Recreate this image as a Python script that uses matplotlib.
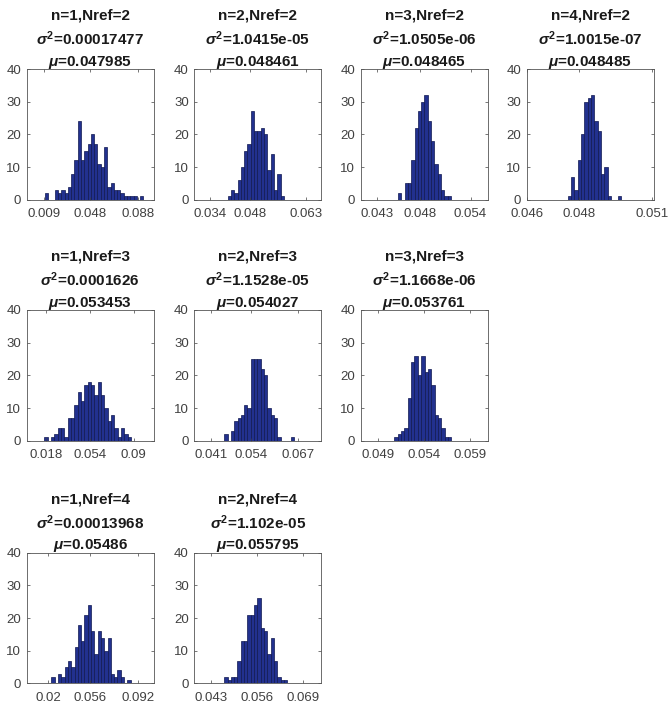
import numpy as np
import matplotlib
matplotlib.use("Agg")
import matplotlib.pyplot as plt

plt.rcParams['font.family'] = ['Liberation Sans', 'DejaVu Sans']
plt.rcParams['mathtext.fontset'] = 'custom'
plt.rcParams['mathtext.rm'] = 'Liberation Sans:bold'
plt.rcParams['mathtext.it'] = 'Liberation Sans:italic:bold'
plt.rcParams['mathtext.bf'] = 'Liberation Sans:bold'

# ---- data ----
n_vals = [1, 2, 3, 4, 1, 2, 3, 1, 2]
nref_vals = [2, 2, 2, 2, 3, 3, 3, 4, 4]
variances = [0.00017477, 1.0415e-05, 1.0505e-06, 1.0015e-07,
             0.0001626, 1.1528e-05, 1.1668e-06,
             0.00013968, 1.102e-05]
means = [0.047985, 0.048461, 0.048465, 0.048485,
         0.053453, 0.054027, 0.053761,
         0.05486, 0.055795]

counts_1 = [2, 0, 0, 3, 2, 3, 2, 4, 8, 12, 24, 12, 15, 17, 20, 17, 11, 10, 16, 4, 5, 3, 3, 2, 1, 1, 1, 1, 0, 1]
counts_2 = [1, 3, 2, 6, 10, 15, 17, 27, 21, 21, 22, 20, 9, 14, 3, 8, 1]
counts_3 = [2, 0, 5, 5, 12, 22, 27, 30, 32, 24, 18, 11, 8, 3, 1, 1]
counts_4 = [1, 7, 3, 12, 20, 30, 31, 32, 24, 21, 8, 10, 1, 0, 0, 1]
counts_5 = [1, 0, 1, 2, 4, 4, 1, 7, 7, 11, 15, 12, 17, 18, 17, 14, 18, 14, 10, 6, 8, 4, 1, 4, 2, 1]
counts_6 = [2, 0, 3, 6, 7, 8, 11, 10, 25, 25, 25, 22, 20, 10, 8, 7, 1, 0, 0, 0, 1]
counts_7 = [1, 2, 3, 4, 13, 24, 26, 20, 26, 21, 22, 17, 8, 7, 4, 1, 1]
counts_8 = [2, 0, 3, 2, 5, 7, 5, 11, 18, 13, 21, 24, 16, 9, 16, 14, 10, 14, 3, 2, 4, 2, 0, 1]
counts_9 = [2, 1, 2, 2, 7, 13, 13, 21, 21, 24, 26, 17, 16, 9, 14, 7, 2, 1, 1]
all_counts = [counts_1, counts_2, counts_3, counts_4, counts_5,
              counts_6, counts_7, counts_8, counts_9]

bin_ranges = [(0.0101, 0.0928), (0.03923, 0.05626), (0.04544, 0.05169),
              (0.047635, 0.049764), (0.01635, 0.08794), (0.04494, 0.06567),
              (0.050754, 0.056971), (0.0227, 0.08606), (0.04677, 0.0645)]

x_limits = [(-0.0052, 0.1014), (0.02919, 0.06751), (0.041038, 0.056022),
            (0.046016, 0.051064), (0.00173, 0.1066), (0.036055, 0.07378),
            (0.047103, 0.060919), (0.00289, 0.10451), (0.03839, 0.074)]

x_ticks = [(0.009, 0.04768, 0.088), (0.034, 0.04609, 0.063), (0.043, 0.04803, 0.054),
           (0.046, 0.048073, 0.051), (0.018, 0.05392, 0.09), (0.041, 0.05284, 0.067),
           (0.049, 0.05397, 0.059), (0.02, 0.05334, 0.092), (0.043, 0.05597, 0.069)]
x_ticklabels = [("0.009", "0.048", "0.088"), ("0.034", "0.048", "0.063"),
                ("0.043", "0.048", "0.054"), ("0.046", "0.048", "0.051"),
                ("0.018", "0.054", "0.09"), ("0.041", "0.054", "0.067"),
                ("0.049", "0.054", "0.059"), ("0.02", "0.056", "0.092"),
                ("0.043", "0.056", "0.069")]
y_ticks = [0, 10, 20, 30, 40]

# grid slot (row, col) for each panel
slots = [(0, 0), (0, 1), (0, 2), (0, 3), (1, 0), (1, 1), (1, 2), (2, 0), (2, 1)]

# ---- layout ----
W, H = 672, 706
fig = plt.figure(figsize=(W / 100, H / 100), dpi=100)
col_left = [26.7, 194.3, 360.7, 526.7]
row_top = [69.0, 310.0, 552.7]
ax_w, ax_h = 127.0, 130.7

face = '#22318f'
edge = '#101850'
tick_col = '#404040'

for i, (r, c) in enumerate(slots):
    ax = fig.add_axes([col_left[c] / W, 1 - (row_top[r] + ax_h) / H, ax_w / W, ax_h / H])
    cnt = np.array(all_counts[i])
    lo, hi = bin_ranges[i]
    edges = np.linspace(lo, hi, len(cnt) + 1)
    ax.bar(edges[:-1], cnt, width=np.diff(edges), align='edge',
           color=face, edgecolor=edge, linewidth=0.5)
    ax.set_xlim(*x_limits[i])
    ax.set_ylim(0, 40)
    ax.set_xticks(x_ticks[i])
    ax.set_xticklabels(x_ticklabels[i])
    ax.set_yticks(y_ticks)
    ax.tick_params(direction='in', top=True, right=True, length=2.5, width=0.5,
                   colors=tick_col, labelsize=9.5)
    ax.tick_params(axis='x', pad=6)
    ax.tick_params(axis='y', pad=4)
    for s in ax.spines.values():
        s.set_color('#555555')
        s.set_linewidth(0.6)
    title = ("n=%d,Nref=%d\n$\\sigma^2$=%.5g\n$\\mu$=%.5g"
             % (n_vals[i], nref_vals[i], variances[i], means[i]))
    ax.set_title(title, fontsize=11, fontweight='bold', color='#1a1a1a',
                 linespacing=1.45, pad=2.5)

fig.savefig('out.png', dpi=100)
